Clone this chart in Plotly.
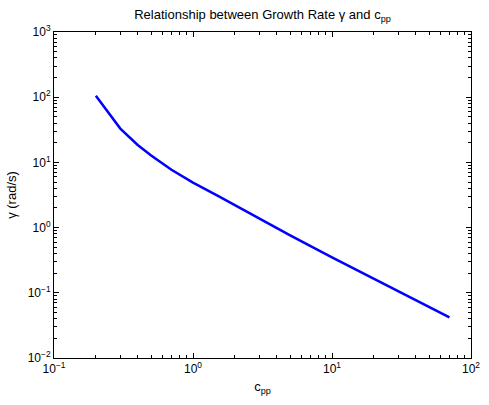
import plotly.graph_objects as go

c_pp = [0.2, 0.3, 0.4, 0.5, 0.7, 1.0, 1.5, 2.0, 3.0, 5.0, 10.0, 20.0, 50.0, 70.0]
gamma = [105, 33, 18.5, 12.8, 7.7, 4.9, 3.1, 2.2, 1.38, 0.76, 0.35, 0.166, 0.062, 0.042]

x_tickvals = [0.1, 1, 10, 100]
x_ticktext = ["10<sup>−1</sup>", "10<sup>0</sup>", "10<sup>1</sup>", "10<sup>2</sup>"]
y_tickvals = [0.01, 0.1, 1, 10, 100, 1000]
y_ticktext = ["10<sup>−2</sup>", "10<sup>−1</sup>", "10<sup>0</sup>", "10<sup>1</sup>", "10<sup>2</sup>", "10<sup>3</sup>"]

x_minor = [m * d for d in [0.1, 1, 10] for m in range(2, 10)]
y_minor = [m * d for d in [0.01, 0.1, 1, 10, 100] for m in range(2, 10)]

font = "Liberation Sans, Arial, sans-serif"

fig = go.Figure()
fig.add_trace(go.Scatter(x=c_pp, y=gamma, mode="lines",
                         line=dict(color="#0000ff", width=2.5), showlegend=False))

axis_common = dict(
    type="log", showline=True, linecolor="black", linewidth=1, mirror="ticks",
    ticks="inside", ticklen=5, tickcolor="black", showgrid=False, zeroline=False,
    tickfont=dict(family=font, size=12, color="black"), ticklabeloverflow="allow",
)

fig.update_layout(
    width=489, height=405,
    margin=dict(l=54, r=9, t=32, b=47),
    paper_bgcolor="white", plot_bgcolor="white",
    title=dict(text="Relationship between Growth Rate γ and c<sub>pp</sub>",
               x=0.5, xref="paper", y=0.975, yanchor="top",
               font=dict(family=font, size=13, color="black")),
    xaxis=dict(axis_common, range=[-1, 2], tickvals=x_tickvals, ticktext=x_ticktext,
               minor=dict(ticks="inside", ticklen=3, tickcolor="black", showgrid=False, tickvals=x_minor),
               title=dict(text="c<sub>pp</sub>", font=dict(family=font, size=13, color="black"), standoff=6)),
    yaxis=dict(axis_common, range=[-2, 3], tickvals=y_tickvals, ticktext=y_ticktext,
               minor=dict(ticks="inside", ticklen=3, tickcolor="black", showgrid=False, tickvals=y_minor),
               title=dict(text="γ (rad/s)", font=dict(family=font, size=13, color="black"), standoff=8)),
)

fig.write_html("out.html")
